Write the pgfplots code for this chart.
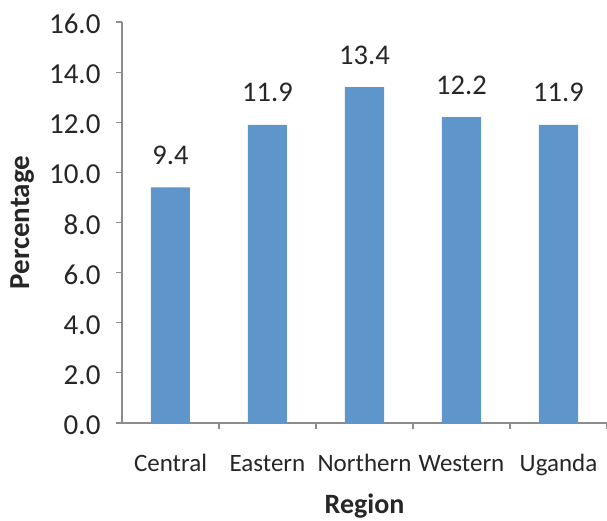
\documentclass[border=0pt]{standalone}
\usepackage{pgfplots}
\pgfplotsset{compat=1.18}
\usepackage{fontspec}
\setmainfont{Carlito}
\definecolor{barblue}{RGB}{94,149,203}
\definecolor{axgray}{RGB}{140,140,140}
\begin{document}
\begin{tikzpicture}
\path[use as bounding box] (-122pt,-98pt) rectangle (485pt,423pt);
\begin{axis}[
  at={(0,0)}, anchor=south west,
  scale only axis, width=485pt, height=401pt,
  xmin=-0.5, xmax=4.5, ymin=0, ymax=16,
  axis lines*=left,
  axis line style={axgray, line width=1.2pt},
  tick style={axgray, line width=1.2pt},
  tick align=outside,
  major tick length=6pt,
  ytick={0,2,...,16},
  yticklabel={\pgfmathprintnumber[fixed,fixed zerofill,precision=1,assume math mode=true]{\tick}},
  yticklabel style={font=\fontsize{29}{29}\selectfont, text=black!85, xshift=-12pt, yshift=-2pt},
  xtick={0.5,1.5,2.5,3.5,4.5},
  xticklabels={},
  extra x ticks={0,1,2,3,4},
  extra x tick labels={Central,Eastern,Northern,Western,Uganda},
  extra x tick style={major tick length=0pt, tick label style={font=\fontsize{25}{25}\selectfont, text=black!85, text height=17pt, text depth=5pt, yshift=-28pt}},
  ylabel={\textbf{Percentage}},
  ylabel style={at={(axis description cs:-0.206,0.5)}, anchor=center, font=\fontsize{29}{29}\selectfont, text=black!85},
  xlabel={\textbf{Region}},
  xlabel style={at={(axis description cs:0.5,-0.207)}, anchor=center, font=\fontsize{28}{28}\selectfont, text=black!85},
  ybar, bar width=39pt,
  nodes near coords={\pgfmathprintnumber[fixed,fixed zerofill,precision=1,assume math mode=true]{\pgfplotspointmeta}},
  every node near coord/.append style={anchor=base, yshift=23pt, font=\fontsize{28.5}{28.5}\selectfont, text=black!85},
  clip=false,
]
\addplot[fill=barblue, draw=none] coordinates {(0,9.4) (1,11.9) (2,13.4) (3,12.2) (4,11.9)};
\end{axis}
\end{tikzpicture}
\end{document}
